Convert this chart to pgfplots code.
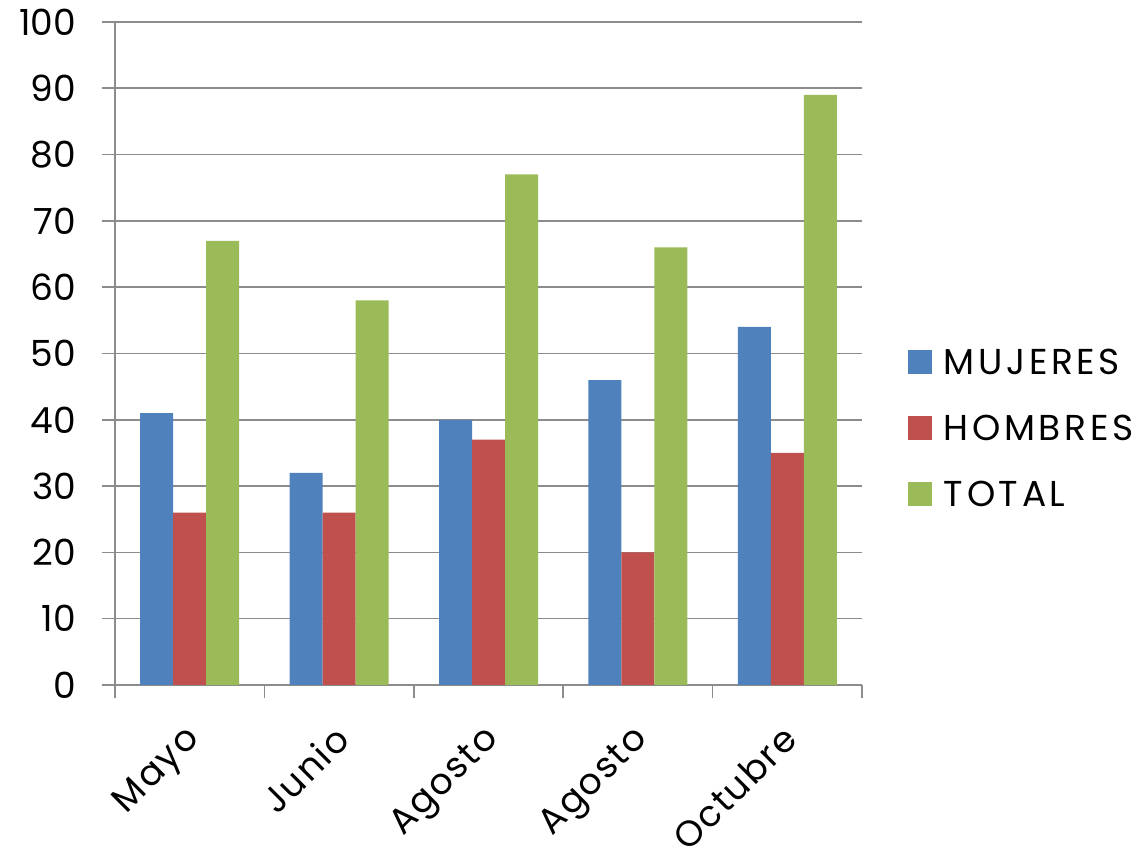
\documentclass[border=0pt]{standalone}
\usepackage{pgfplots}
\pgfplotsset{compat=1.18}
\usepackage{fontspec}
\setmainfont{Poppins}
\usetikzlibrary{calc}
\definecolor{cblue}{HTML}{4F81BD}
\definecolor{cred}{HTML}{C0504D}
\definecolor{cgreen}{HTML}{9BBB59}
\definecolor{gridc}{HTML}{8C8C8C}
\begin{document}
\begin{tikzpicture}
\begin{axis}[
  name=ax,
  scale only axis,
  width=373.5pt, height=331.5pt,
  ybar, bar width=16.5pt,
  ymin=0, ymax=100, ytick={0,10,...,100},
  xmin=-0.5, xmax=4.5,
  xtick={0,1,2,3,4},
  xticklabels={Mayo,Junio,Agosto,Agosto,Octubre},
  minor xtick={-0.5,0.5,...,4.5},
  major x tick style={draw=none},
  minor x tick style={draw=gridc, line width=0.8pt},
  minor tick length=6.5pt,
  major tick length=6.5pt,
  tick align=outside,
  ytick style={draw=gridc, line width=0.8pt},
  ymajorgrids,
  grid style={gridc, line width=0.8pt},
  axis x line*=bottom, axis y line*=left,
  axis line style={gridc, line width=0.8pt},
  x axis line style={-},
  y axis line style={-},
  tick label style={font=\fontsize{18}{20}\selectfont, text=black},
  /pgf/number format/assume math mode=true,
  yticklabel style={xshift=-9.5pt},
  xticklabel style={rotate=45, anchor=north east, inner sep=0pt, xshift=-11pt, yshift=-6.2pt,
    font=\fontsize{18}{20}\selectfont\addfontfeatures{LetterSpace=5}},
  legend style={draw=none, fill=none, at={(1.053,0.386)}, anchor=west,
    font=\fontsize{18}{20}\selectfont\addfontfeatures{LetterSpace=10}, row sep=14.75pt,
    /tikz/every even column/.append style={column sep=4pt}},
  legend cell align=left,
  legend image code/.code={\fill[#1] (0pt,-5.5pt) rectangle (12pt,6.5pt); \path (16pt,0pt);},
  every axis plot/.append style={draw=none},
]
\addplot[fill=cblue, bar shift=-16.5pt] coordinates {(0,41) (1,32) (2,40) (3,46) (4,54)};
\addplot[fill=cred, bar shift=0pt] coordinates {(0,26) (1,26) (2,37) (3,20) (4,35)};
\addplot[fill=cgreen, bar shift=16.5pt] coordinates {(0,67) (1,58) (2,77) (3,66) (4,89)};
\legend{MUJERES,HOMBRES,TOTAL}
\end{axis}
\pgfresetboundingbox
\path[use as bounding box] ($(ax.south west)+(-57.5pt,-81.5pt)$) rectangle ($(ax.north east)+(141.5pt,11pt)$);
\end{tikzpicture}
\end{document}
